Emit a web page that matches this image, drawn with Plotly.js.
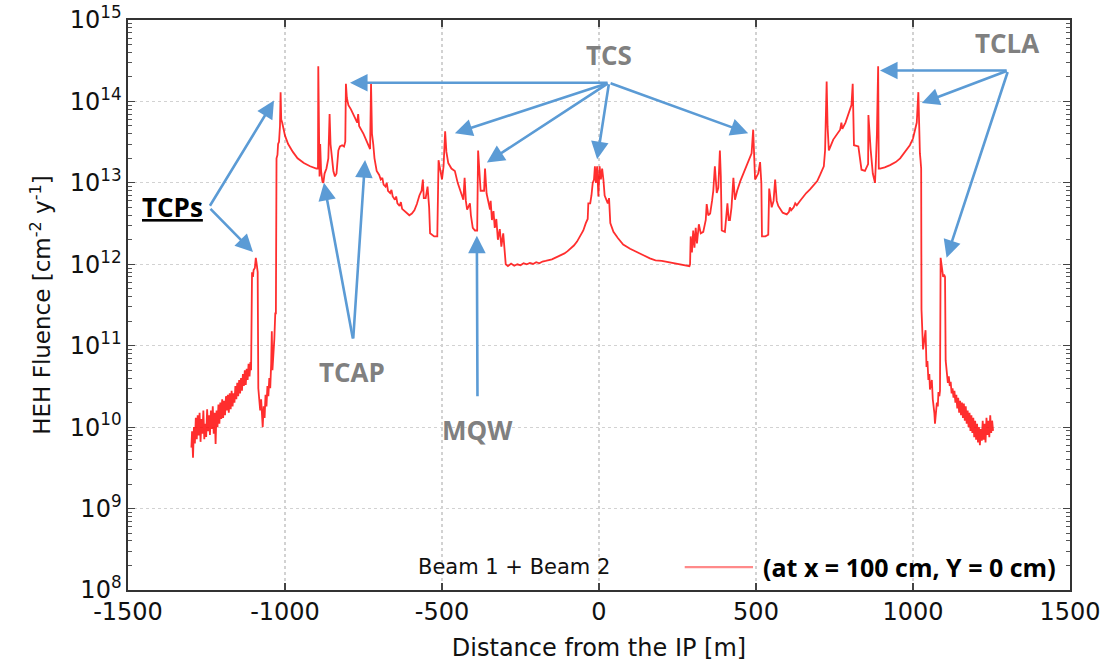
<!DOCTYPE html>
<html>
<head>
<meta charset="utf-8">
<script src="https://cdn.plot.ly/plotly-3.0.1.min.js"></script>
<style>html,body{margin:0;padding:0;background:#fff;}</style>
</head>
<body>
<div id="chart" style="width:1105px;height:669px;"></div>
<script>
// ---- data (distance from IP [m], HEH fluence [cm^-2 y^-1]) ----
const distance_m = [
-1298,-1296,-1293,-1290,-1287,-1284,-1281,-1278,-1275,-1272,-1269,-1266,-1263,-1260,-1257,-1254,-1251,-1248,-1245,-1242,
-1239,-1236,-1233,-1230,-1227,-1224,-1221,-1218,-1215,-1212,-1209,-1206,-1203,-1200,-1197,-1194,-1191,-1188,-1185,-1182,
-1179,-1176,-1173,-1170,-1167,-1164,-1161,-1158,-1155,-1152,-1149,-1146,-1143,-1140,-1137,-1134,-1131,-1128,-1125,-1122,
-1119,-1116,-1113,-1110,-1108,
-1106,-1105,-1102,-1100,-1096,-1093,-1090,-1087,-1085,-1082,-1079,-1076,-1073,-1071,-1068,-1065,-1062,-1059,-1056,-1053,
-1050,-1047,-1044,-1042,-1040,-1037,-1034,-1031,-1029,-1027,-1024,-1022,-1019,-1016,-1014,-1012,-1009,-1000,-990,-975,
-960,-940,-920,-900,-895,-894,-892,-890,-888,-885,-881,-878,-874,-868,-862,-858,-855,-851,-846,-841,
-836,-830,-825,-818,-812,-808,-806,-803,-798,-790,-780,-770,-767,-764,-750,-738,-729,-726,-723,-719,
-715,-708,-700,-695,-690,-686,-680,-676,-672,-665,-661,-657,-650,-646,-642,-635,-631,-627,-620,-612,
-604,-596,-588,-580,-572,-565,-561,-558,-552,-546,-541,-538,-525,-515,-511,-505,-500,-495,-490,-486,
-480,-470,-459,-450,-440,-432,-428,-424,-420,-413,-411,-408,-402,-395,-388,-385,-381,-377,-366,-363,
-358,-350,-347,-345,-341,-336,-332,-327,-322,-316,-311,-305,-301,-297,
-290,-280,-270,-260,-250,-240,-230,-220,-210,-200,-190,-180,-170,-160,-150,-140,-130,-120,-110,-100,
-90,-80,-70,-60,-50,-42,-36,-34,-28,-24,-20,-16,-13,-10,-6,-2,2,6,10,14,
18,28,32,36,46,60,77,99,120,140,162,180,200,216,230,245,260,270,280,288,
290,292,296,300,304,308,312,318,324,332,340,343,348,354,360,364,369,375,380,385,
388,391,401,409,413,417,422,428,433,440,450,460,470,480,486,491,494,497,507,513,
517,519,530,539,542,550,556,561,566,571,585,598,605,608,612,620,625,630,640,650,
660,672,685,695,704,710,716,720,722,725,728,732,746,760,768,772,775,785,794,804,
808,812,826,831,836,847,853,857,858,862,865,872,879,882,885,889,891,895,910,927,
945,959,975,990,1000,1006,1012,1017,1020,1022,1024,1026,1027,1029,1032,1035,1038,1040,1043,1046,
1049,1052,1054,1057,1060,1063,1065,1068,1070,1073,1076,1079,1081,1084,1086,1088,1091,1094,1096,1099,
1102,1104,1106,1108,1111,1114,1117,1120,1123,1126,1129,1132,1135,1138,1141,1144,1147,1150,1153,1156,
1159,1162,1165,1168,1171,1174,1177,1180,1183,1186,1189,1192,1195,1198,1201,1204,1207,1210,1213,1216,
1219,1222,1225,1228,1231,1234,1237,1240,1243,1246,1249,1252,1255
];
const heh_fluence = [
5.6e9,8.9e9,4.2e9,1.0e10,6.3e9,1.3e10,7.1e9,1.4e10,7.9e9,1.5e10,6.6e9,1.26e10,8.3e9,1.6e10,7.1e9,1.1e10,7.6e9,1.66e10,8.9e9,1.4e10,
8e9,1.6e10,9.5e9,1.8e10,8.3e9,1.5e10,6.2e9,1.6e10,1e10,1.9e10,1.1e10,2e10,1.26e10,2.2e10,1.3e10,2.1e10,1.4e10,2.4e10,1.6e10,2.5e10,
1.5e10,2.6e10,1.66e10,2.8e10,1.8e10,2.6e10,2e10,3.2e10,2.2e10,3.5e10,2.4e10,3.8e10,2.6e10,4e10,2.8e10,4.5e10,3.2e10,5e10,3.3e10,5.2e10,
3.8e10,6e10,4.2e10,6.3e10,5e10,
1.5e11,8e11,7e11,8.5e11,9e11,1.2e12,1.0e12,8e11,3e10,2e10,1.6e10,2.2e10,1.2e10,1e10,1.8e10,1.3e10,2.5e10,1.8e10,3.2e10,2.4e10,
4e10,3e10,6e10,1.5e11,5e10,7e10,1.2e11,2.5e11,2.5e11,2e13,2.2e13,3e13,3.2e13,5e13,1.3e14,6e13,5.5e13,3.8e13,3e13,2.4e13,
2e13,1.75e13,1.6e13,1.5e13,1.5e13,2.7e14,3e13,1.2e13,3e13,1.4e13,1.05e13,1e13,1.3e13,1.5e13,2e13,7e13,3e13,1.9e13,1.4e13,1.2e13,
1.3e13,2.5e13,2.8e13,2.9e13,2.8e13,3.2e13,1.65e14,1.1e14,9e13,8e13,6.5e13,5.5e13,7e13,5e13,4e13,3.2e13,2.6e13,1.65e14,4e13,3e13,
2e13,1.4e13,1.25e13,1.1e13,1.15e13,9.5e12,9e12,1e13,8e12,7.5e12,8.2e12,6.8e12,6.2e12,6.8e12,5.6e12,5.2e12,5.8e12,4.8e12,4.5e12,4.2e12,
4e12,4.2e12,4.6e12,5.5e12,7e12,8e12,1.1e13,6.5e12,6.5e12,9e12,5e12,2.4e12,2.2e12,2.2e12,1.9e13,1.4e13,1.1e13,1.6e13,4.3e13,2.4e13,
1.75e13,1.5e13,1.4e13,1e13,7.5e12,6.2e12,1.15e13,6e12,4.7e12,5.6e12,5.6e12,4e12,2.8e12,2.6e12,2.6e12,2.5e13,1.2e13,8e12,8e12,1.5e13,
7.4e12,5.5e12,4.7e12,6e12,3.5e12,4.5e12,2.8e12,3.6e12,2e12,2.7e12,1.65e12,2.4e12,1.4e12,1.0e12,
9.5e11,1.02e12,9.6e11,1.0e12,9.7e11,1.03e12,1.0e12,1.04e12,1.01e12,1.06e12,1.03e12,1.08e12,1.1e12,1.12e12,1.15e12,1.2e12,1.25e12,1.3e12,1.36e12,1.45e12,
1.55e12,1.7e12,1.9e12,2.2e12,2.6e12,3.2e12,3.6e12,5.6e12,5.6e12,7e12,1e13,1.1e13,1.6e13,1e13,1.6e13,6.8e12,1.6e13,1.1e13,1.5e13,1.1e13,
7e12,5.6e12,6.5e12,3.2e12,2.5e12,2.1e12,1.75e12,1.55e12,1.4e12,1.3e12,1.18e12,1.12e12,1.1e12,1.07e12,1.05e12,1.02e12,1.0e12,9.9e11,9.7e11,9.5e11,
1.0e12,2.2e12,1.4e12,2.6e12,1.6e12,2.8e12,1.8e12,3.1e12,2.4e12,2.5e12,3.5e12,5.5e12,4e12,4.2e12,6e12,8e12,1.6e13,7.5e12,8.7e12,2.5e13,
1.2e13,2.6e12,2.5e12,5.6e12,3.5e12,3.5e12,5e12,1.15e13,6.2e12,8e12,1.05e13,1.3e13,1.6e13,2e13,2.3e13,4.5e13,2e13,1.1e13,1.3e13,1.8e13,
1e13,2.2e12,2.2e12,2.3e12,8.5e12,5e12,6e12,1.1e13,6e12,5.2e12,4.3e12,4.1e12,4.4e12,5e12,4.6e12,5e12,5.6e12,5.3e12,6e12,6.8e12,
7.5e12,8.3e12,9.5e12,1.05e13,1.25e13,1.4e13,1.6e13,2.5e13,4.9e13,1.75e14,4.9e13,2.5e13,3.4e13,4e13,4.5e13,5.5e13,4.6e13,5.5e13,7.1e13,9e13,
1.65e14,2.9e13,2.8e13,1.9e13,1.45e13,1.4e13,1.6e13,1.7e13,6.8e13,3.5e13,2.6e13,1.3e13,1e13,1.9e13,3.9e13,2.7e14,1.5e13,1.5e13,1.55e13,1.65e13,
1.8e13,2e13,2.4e13,2.9e13,3.5e13,4.5e13,5.5e13,1.3e14,3.5e13,2.3e13,1.9e13,1.5e13,2.8e11,1.55e11,9e10,1.1e11,1.3e11,1.55e11,5.5e10,6.5e10,
3.8e10,4.5e10,2.9e10,3.5e10,3.8e10,2.2e10,1.95e10,1.5e10,1.1e10,1.6e10,2e10,1.8e10,2.7e10,2.4e10,2.8e10,1.2e12,9.5e11,8e11,7e11,7.5e11,
7e11,6.6e10,5.5e10,4.7e10,3.5e10,4.2e10,3.2e10,3.6e10,2.6e10,3e10,2.3e10,2.8e10,2e10,2.5e10,1.7e10,2.3e10,1.5e10,2.1e10,1.4e10,2e10,
1.3e10,1.95e10,1.2e10,1.8e10,1.1e10,1.6e10,1e10,1.5e10,9e9,1.4e10,8.5e9,1.3e10,7.5e9,1.2e10,7e9,1.1e10,6.5e9,1e10,6e9,9.5e9,
6.8e9,1.2e10,7e9,1.1e10,6.5e9,1.3e10,8e9,1.2e10,7.5e9,1.4e10,8.5e9,1.2e10,9e9
];
const xTickVals = [-1500,-1000,-500,0,500,1000,1500];
const xTickText = ['-1500','-1000','-500','0','500','1000','1500'];
const yTickExponents = [8,9,10,11,12,13,14,15];
const seriesName = 'Beam 1 + Beam 2';
const legendNote = '(at x = 100 cm, Y = 0 cm)';
const labelTexts = ['TCS','TCLA','TCAP','MQW','TCPs'];

// tick positions for the log axis (decades + minor digits)
const yTickVals = yTickExponents.map(e => Math.pow(10, e));
const yTickText = yTickExponents.map(e => '10<sup>' + e + '</sup>');
const yMinorVals = [];
yTickExponents.slice(0, -1).forEach(e => { for (let d = 2; d <= 9; d++) yMinorVals.push(d * Math.pow(10, e)); });

const blue = '#5b9bd5';
function arrow(x, ly, ax, aly) {
  return {x:x, y:ly, ax:ax, ay:aly, xref:'x', yref:'y', axref:'x', ayref:'y',
          text:'', showarrow:true, arrowhead:2, arrowsize:1.35, arrowwidth:2.6,
          arrowcolor:blue, standoff:0, startstandoff:0};
}
const labelFont = {family:'Open Sans, sans-serif', size:26, color:'#808080', weight:700};
const annotations = [
  // TCPs
  arrow(-1035, 14.01, -1242, 12.70),
  arrow(-1102, 12.15, -1242, 12.70),
  {x:-1357, y:12.70, xref:'x', yref:'y', text:'<b><u>'+labelTexts[4]+'</u></b>', showarrow:false,
   font:{family:'Open Sans, sans-serif', size:26, color:'#000'}},
  // TCAP
  arrow(-876, 13.0, -783, 11.07),
  arrow(-745, 13.28, -783, 11.07),
  {x:-787, y:10.68, xref:'x', yref:'y', text:'<b>'+labelTexts[2]+'</b>', showarrow:false, font:labelFont},
  // MQW
  arrow(-389, 12.35, -387, 10.36),
  {x:-387, y:9.96, xref:'x', yref:'y', text:'<b>'+labelTexts[3]+'</b>', showarrow:false, font:labelFont},
  // TCS
  arrow(-793, 14.23, 32, 14.23),
  arrow(-459, 13.61, 32, 14.23),
  arrow(-357, 13.25, 32, 14.23),
  arrow(-6, 13.29, 32, 14.23),
  arrow(475, 13.61, 32, 14.23),
  {x:32, y:14.57, xref:'x', yref:'y', text:'<b>'+labelTexts[0]+'</b>', showarrow:false, font:labelFont},
  // TCLA
  arrow(895, 14.38, 1303, 14.38),
  arrow(1028, 13.98, 1303, 14.38),
  arrow(1107, 12.08, 1303, 14.38),
  {x:1299, y:14.72, xref:'x', yref:'y', text:'<b>'+labelTexts[1]+'</b>', showarrow:false, font:labelFont},
  // legend texts
  {x:0.514, y:0.040, xref:'paper', yref:'paper', xanchor:'right', yanchor:'middle', text:seriesName,
   showarrow:false, font:{family:'DejaVu Sans', size:21, color:'#111'}},
  {x:0.672, y:0.040, xref:'paper', yref:'paper', xanchor:'left', yanchor:'middle', text:'<b>'+legendNote+'</b>',
   showarrow:false, font:{family:'Open Sans, sans-serif', size:25, color:'#000'}}
];

const trace = {
  x: distance_m, y: heh_fluence, type:'scatter', mode:'lines', name:seriesName,
  line:{color:'rgba(255,0,0,0.82)', width:1.8}, hoverinfo:'x+y'
};

const axisCommon = {
  showline:true, linecolor:'#333', linewidth:1.6, mirror:'ticks',
  ticks:'inside', ticklen:7, tickwidth:1.2, tickcolor:'#444',
  showgrid:true, gridcolor:'#d2d2d2', gridwidth:1.2, griddash:'dot', zeroline:false,
  tickfont:{family:'DejaVu Sans', size:24, color:'#111'}
};

const layout = {
  width:1105, height:669,
  margin:{l:128, r:35, t:20, b:79},
  paper_bgcolor:'#fff', plot_bgcolor:'#fff',
  showlegend:false,
  font:{family:'DejaVu Sans', color:'#111'},
  xaxis: Object.assign({}, axisCommon, {
    range:[-1500,1500], tickmode:'array', tickvals:xTickVals, ticktext:xTickText,
    title:{text:'Distance from the IP [m]', font:{family:'DejaVu Sans', size:24, color:'#111'}, standoff:14}
  }),
  yaxis: Object.assign({}, axisCommon, {
    type:'log', range:[8,15], tickmode:'array', tickvals:yTickVals, ticktext:yTickText,
    minor:{tickmode:'array', tickvals:yMinorVals, ticks:'inside', ticklen:4, tickwidth:1, tickcolor:'#555', showgrid:false},
    title:{text:'HEH Fluence [cm<sup>-2</sup> y<sup>-1</sup>]', font:{family:'DejaVu Sans', size:23, color:'#111'}, standoff:12}
  }),
  annotations: annotations,
  shapes:[{type:'line', xref:'paper', yref:'paper', x0:0.591, x1:0.6635, y0:0.040, y1:0.040,
           line:{color:'rgba(255,60,60,0.6)', width:2.2}}]
};

Plotly.newPlot('chart', [trace], layout, {displayModeBar:false, staticPlot:true});
</script>
</body>
</html>
